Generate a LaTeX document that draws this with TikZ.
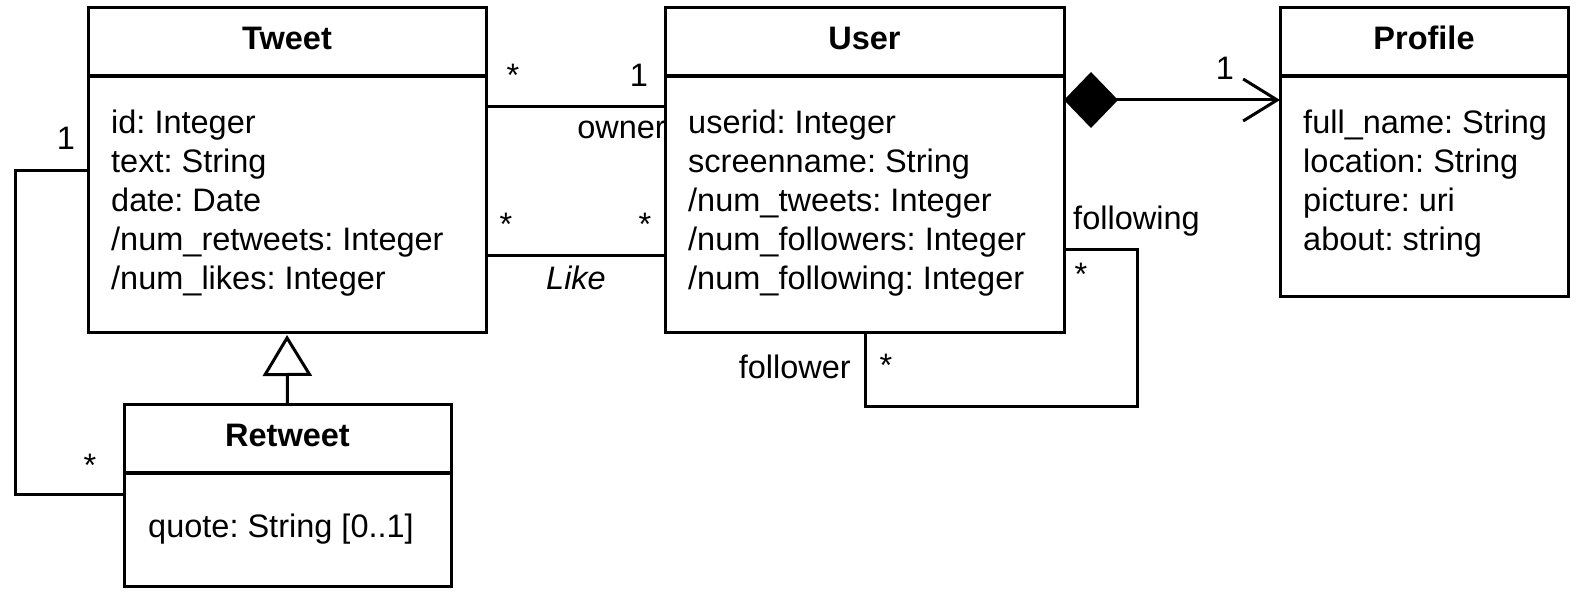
\documentclass[tikz,border=0pt]{standalone}
\usepackage{fontspec}
\setmainfont{Liberation Sans}
\usetikzlibrary{arrows.meta}
\frenchspacing
\begin{document}
\begin{tikzpicture}[x=1pt,y=-1pt]
\tikzset{
 classbox/.style={draw, line width=3pt, inner sep=0pt, outer sep=0pt, anchor=north west},
 sepline/.style={line width=3.5pt},
 conn/.style={line width=3pt},
 attr/.style={anchor=base west, inner sep=0pt, font=\fontsize{32.5}{39}\selectfont},
 ctitle/.style={anchor=base, inner sep=0pt, font=\fontsize{32.5}{39}\selectfont\bfseries},
 lbl/.style={anchor=base, inner sep=0pt, font=\fontsize{32.5}{39}\selectfont},
}
\useasboundingbox (0,0) rectangle (1584,612);
% boxes
\node[classbox, minimum width=398pt, minimum height=324pt] (tweet) at (88,8) {};
\node[classbox, minimum width=399pt, minimum height=324pt] (user) at (665,8) {};
\node[classbox, minimum width=288pt, minimum height=288pt] (profile) at (1280,8) {};
\node[classbox, minimum width=327pt, minimum height=182pt] (retweet) at (124,404) {};
% separators
\draw[sepline] (tweet.west |- 0,76) -- (tweet.east |- 0,76);
\draw[sepline] (user.west |- 0,76) -- (user.east |- 0,76);
\draw[sepline] (profile.west |- 0,76) -- (profile.east |- 0,76);
\draw[sepline] (retweet.west |- 0,473) -- (retweet.east |- 0,473);
% titles
\node[ctitle] (tweetT) at (287,50) {Tweet};
\node[ctitle] (userT) at (864.5,50) {User};
\node[ctitle] (profileT) at (1424,50) {Profile};
\node[ctitle] (retweetT) at (287.5,446) {Retweet};
% attributes
\node[attr] (ta1) at (111,134) {id: Integer};
\node[attr] (ta2) at (111,173) {text: String};
\node[attr] (ta3) at (111,212) {date: Date};
\node[attr] (ta4) at (111,251) {/num\_retweets: Integer};
\node[attr] (ta5) at (111,290) {/num\_likes: Integer};
\node[attr] (ua1) at (688,134) {userid: Integer};
\node[attr] (ua2) at (688,173) {screenname: String};
\node[attr] (ua3) at (688,212) {/num\_tweets: Integer};
\node[attr] (ua4) at (688,251) {/num\_followers: Integer};
\node[attr] (ua5) at (688,290) {/num\_following: Integer};
\node[attr] (pa1) at (1303,134) {full\_name: String};
\node[attr] (pa2) at (1303,173) {location: String};
\node[attr] (pa3) at (1303,212) {picture: uri};
\node[attr] (pa4) at (1303,251) {about: string};
\node[attr] (ra1) at (148,537) {quote: String [0..1]};
% connectors
\draw[conn] (tweet.east |- 0,107) -- (user.west |- 0,107);
\draw[conn] (tweet.east |- 0,256) -- (user.west |- 0,256);
\draw[conn,{Diamond[length=54pt,width=56pt]}-{Straight Barb[length=34pt,width=42pt]}] (user.east |- 0,100) -- (profile.west |- 0,100);
\draw[conn,-{Triangle[open,length=41pt,width=49pt,fill=white]},shorten >=3pt] (retweet.north) -- (tweet.south);
\draw[conn] (tweet.west |- 0,171) -- (15,171) -- (15,494) -- (retweet.west |- 0,494);
\draw[conn] (user.east |- 0,250) -- (1137,250) -- (1137,406) -- (865,406) -- (user.south -| 865,0);
% labels
\node[lbl] (m1) at (513,87) {*};
\node[lbl] (m2) at (639,87) {1};
\node[lbl,anchor=base east] (owner) at (666,139) {owner};
\node[lbl] (m3) at (506,236) {*};
\node[lbl] (m4) at (645,236) {*};
\node[lbl] (like) at (576,290) {\itshape Like};
\node[lbl] (m5) at (66,150) {1};
\node[lbl] (m6) at (90,476) {*};
\node[lbl] (m7) at (1225,80) {1};
\node[lbl,anchor=base west] (following) at (1073,230) {following};
\node[lbl] (m8) at (1081,286) {*};
\node[lbl,anchor=base east] (follower) at (851,378) {follower};
\node[lbl] (m9) at (886,376) {*};
\end{tikzpicture}
\end{document}
